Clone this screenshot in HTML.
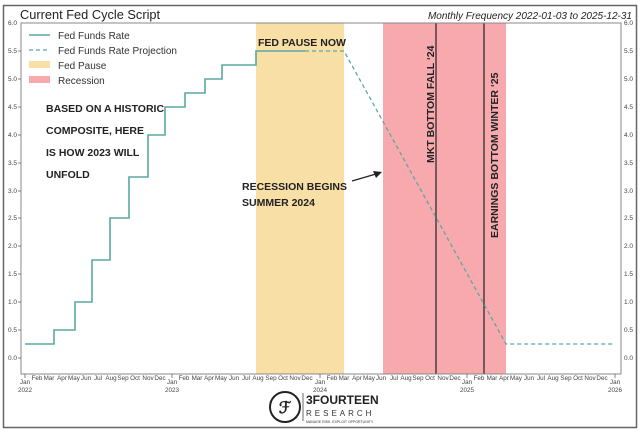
<!DOCTYPE html>
<html><head><meta charset="utf-8"><style>
body{margin:0;background:#fff;}
svg{display:block;font-family:"Liberation Sans",sans-serif;}
</style></head><body>
<svg width="640" height="431" viewBox="0 0 640 431">
<rect x="3.5" y="5.5" width="633" height="422" fill="#fff" stroke="#666" stroke-width="1.5"/>
<text x="20" y="19" font-size="12.8" fill="#222">Current Fed Cycle Script</text>
<text x="632" y="19" font-size="10" font-style="italic" fill="#222" text-anchor="end">Monthly Frequency 2022-01-03 to 2025-12-31</text>
<rect x="256" y="23" width="88" height="351" fill="#f8dfa6"/>
<rect x="383" y="23" width="123" height="351" fill="#f7a9ad"/>
<line x1="436" y1="23" x2="436" y2="374" stroke="#222" stroke-width="1.2"/>
<line x1="484" y1="23" x2="484" y2="374" stroke="#222" stroke-width="1.2"/>
<rect x="21" y="23" width="600" height="351" fill="none" stroke="#888" stroke-width="1"/>
<g font-size="6.5" fill="#444" text-anchor="end">
<text x="17" y="360">0.0</text><text x="17" y="332">0.5</text><text x="17" y="304">1.0</text><text x="17" y="276">1.5</text><text x="17" y="248">2.0</text><text x="17" y="220">2.5</text><text x="17" y="193">3.0</text><text x="17" y="165">3.5</text><text x="17" y="137">4.0</text><text x="17" y="109">4.5</text><text x="17" y="81">5.0</text><text x="17" y="53">5.5</text><text x="17" y="25">6.0</text>
</g>
<g font-size="6.5" fill="#444">
<text x="624" y="360">0.0</text><text x="624" y="332">0.5</text><text x="624" y="304">1.0</text><text x="624" y="276">1.5</text><text x="624" y="248">2.0</text><text x="624" y="220">2.5</text><text x="624" y="193">3.0</text><text x="624" y="165">3.5</text><text x="624" y="137">4.0</text><text x="624" y="109">4.5</text><text x="624" y="81">5.0</text><text x="624" y="53">5.5</text><text x="624" y="25">6.0</text>
</g>
<g stroke="#666" stroke-width="0.8">
<line x1="18" y1="358" x2="21" y2="358"/><line x1="18" y1="330" x2="21" y2="330"/><line x1="18" y1="302" x2="21" y2="302"/><line x1="18" y1="274" x2="21" y2="274"/><line x1="18" y1="246" x2="21" y2="246"/><line x1="18" y1="218" x2="21" y2="218"/><line x1="18" y1="191" x2="21" y2="191"/><line x1="18" y1="163" x2="21" y2="163"/><line x1="18" y1="135" x2="21" y2="135"/><line x1="18" y1="107" x2="21" y2="107"/><line x1="18" y1="79" x2="21" y2="79"/><line x1="18" y1="51" x2="21" y2="51"/>
<line x1="25" y1="374" x2="25" y2="378"/><line x1="172" y1="374" x2="172" y2="378"/><line x1="320" y1="374" x2="320" y2="378"/><line x1="467" y1="374" x2="467" y2="378"/><line x1="615" y1="374" x2="615" y2="378"/>
</g>
<g font-size="6.3" fill="#444" text-anchor="middle">
<text x="25" y="384">Jan</text><text x="25" y="392">2022</text>
<text x="172" y="384">Jan</text><text x="172" y="392">2023</text>
<text x="320" y="384">Jan</text><text x="320" y="392">2024</text>
<text x="467" y="384">Jan</text><text x="467" y="392">2025</text>
<text x="615" y="384">Jan</text><text x="615" y="392">2026</text>
</g>
<g font-size="6.3" fill="#444" text-anchor="middle">
<text x="37" y="380">Feb</text><text x="49" y="380">Mar</text><text x="62" y="380">Apr</text><text x="74" y="380">May</text><text x="86" y="380">Jun</text><text x="98" y="380">Jul</text><text x="111" y="380">Aug</text><text x="123" y="380">Sep</text><text x="135" y="380">Oct</text><text x="148" y="380">Nov</text><text x="160" y="380">Dec</text>
<text x="184" y="380">Feb</text><text x="197" y="380">Mar</text><text x="209" y="380">Apr</text><text x="221" y="380">May</text><text x="234" y="380">Jun</text><text x="246" y="380">Jul</text><text x="258" y="380">Aug</text><text x="271" y="380">Sep</text><text x="283" y="380">Oct</text><text x="295" y="380">Nov</text><text x="307" y="380">Dec</text>
<text x="332" y="380">Feb</text><text x="344" y="380">Mar</text><text x="357" y="380">Apr</text><text x="369" y="380">May</text><text x="381" y="380">Jun</text><text x="394" y="380">Jul</text><text x="406" y="380">Aug</text><text x="418" y="380">Sep</text><text x="430" y="380">Oct</text><text x="443" y="380">Nov</text><text x="455" y="380">Dec</text>
<text x="479" y="380">Feb</text><text x="492" y="380">Mar</text><text x="504" y="380">Apr</text><text x="516" y="380">May</text><text x="529" y="380">Jun</text><text x="541" y="380">Jul</text><text x="553" y="380">Aug</text><text x="566" y="380">Sep</text><text x="578" y="380">Oct</text><text x="590" y="380">Nov</text><text x="602" y="380">Dec</text>
</g>
<polyline fill="none" stroke="#5aa9a0" stroke-width="1.6" points="25,344 54,344 54,330 75,330 75,302 92,302 92,260 110,260 110,218 129,218 129,177 148,177 148,135 165,135 165,107 185,107 185,93 205,93 205,79 222,79 222,65 256,65 256,51 305,51"/>
<polyline fill="none" stroke="#5aa9a0" stroke-width="1.3" stroke-dasharray="4,3" points="305,51 344,51 506,344 615,344"/>
<line x1="29" y1="35" x2="50" y2="35" stroke="#5aa9a0" stroke-width="1.6"/>
<line x1="29" y1="50" x2="50" y2="50" stroke="#5aa9a0" stroke-width="1.3" stroke-dasharray="4,3"/>
<rect x="29" y="61" width="21" height="7" fill="#f8dfa6"/>
<rect x="29" y="76" width="21" height="7" fill="#f7a9ad"/>
<g font-size="10" fill="#333">
<text x="58" y="39">Fed Funds Rate</text><text x="58" y="54">Fed Funds Rate Projection</text><text x="58" y="69">Fed Pause</text><text x="58" y="84">Recession</text>
</g>
<g font-size="10.5" font-weight="bold" fill="#222">
<text x="258" y="46">FED PAUSE NOW</text>
<text x="46" y="112">BASED ON A HISTORIC</text>
<text x="46" y="134">COMPOSITE, HERE</text>
<text x="46" y="156">IS HOW 2023 WILL</text>
<text x="46" y="178">UNFOLD</text>
<text x="242" y="190">RECESSION BEGINS</text>
<text x="242" y="206">SUMMER 2024</text>
<text transform="translate(434,163) rotate(-90)">MKT BOTTOM FALL ‘24</text>
<text transform="translate(498,238) rotate(-90)">EARNINGS BOTTOM WINTER ‘25</text>
</g>
<line x1="352" y1="181" x2="376" y2="174" stroke="#222" stroke-width="1.2"/>
<polygon points="382,172 373,171 376,178" fill="#222"/>
<circle cx="285" cy="407" r="15" fill="none" stroke="#222" stroke-width="2"/>
<text x="285" y="413" font-size="16" text-anchor="middle" fill="#222" font-weight="bold">ℱ</text>
<line x1="303" y1="393" x2="303" y2="421" stroke="#444" stroke-width="0.8"/>
<text x="306" y="404" font-size="12" font-weight="bold" fill="#222">3FOURTEEN</text>
<text x="306" y="416" font-size="8" fill="#333" letter-spacing="3">RESEARCH</text>
<text x="306" y="423" font-size="3.5" fill="#333">MANAGE RISK. EXPLOIT OPPORTUNITY.</text>
</svg>
</body></html>
